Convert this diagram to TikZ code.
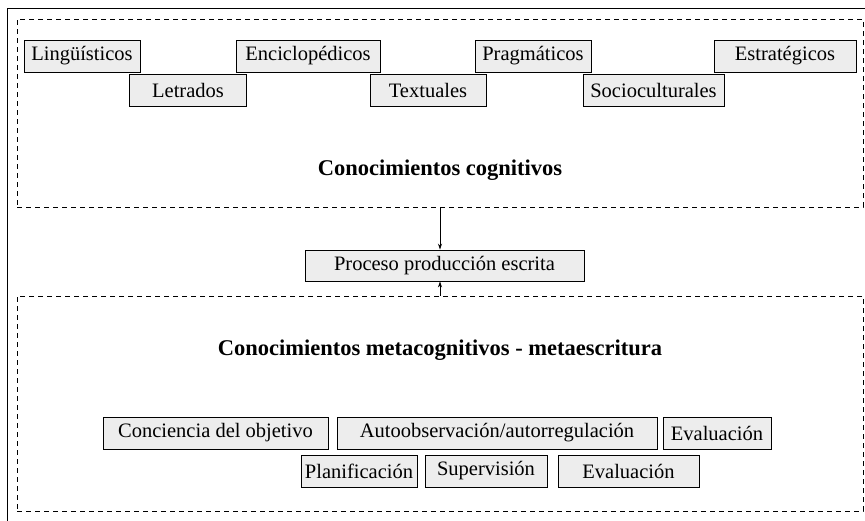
\documentclass[tikz,border=0pt]{standalone}
\usepackage{fontspec}
\setmainfont{Liberation Serif}
\usetikzlibrary{arrows.meta}
\begin{document}
\begin{tikzpicture}[x=1pt,y=-1pt,
  every node/.style={font=\fontsize{20.5}{24}\selectfont},
  kbox/.style={draw=black,line width=0.9pt,fill=black!7,inner sep=0pt,minimum height=32pt},
  dbox/.style={draw=black,line width=0.9pt,dash pattern=on 5pt off 4pt,inner sep=0pt},
  title/.style={font=\fontsize{22.5}{26}\selectfont\bfseries},
  arr/.style={line width=0.8pt,-{Stealth[length=6pt,width=4pt]}}]
\useasboundingbox (0,0) rectangle (865,520);
\begin{scope}
\clip (0,0) rectangle (865,520);
\draw[line width=1.4pt] (7.5,540) -- (7.5,8.5) -- (880,8.5);
\end{scope}
% dashed containers
\node[dbox,minimum width=846pt,minimum height=188pt] (top) at (440,113) {};
\node[dbox,minimum width=846pt,minimum height=215pt] (bot) at (440,403.5) {};
% cognitive boxes
\node[kbox,minimum width=116pt] (ling) at (82,56) {Lingüísticos};
\node[kbox,minimum width=117pt] (letr) at (188,90) {Letrados};
\node[kbox,minimum width=144pt] (enci) at (308,56) {Enciclopédicos};
\node[kbox,minimum width=116pt] (text) at (428,90) {Textuales};
\node[kbox,minimum width=116pt] (prag) at (533,56) {Pragmáticos};
\node[kbox,minimum width=141pt] (soci) at (653.5,90) {Socioculturales};
\node[kbox,minimum width=142pt] (estr) at (785,56) {Estratégicos};
\node[title] (cogt) at (440,170) {Conocimientos cognitivos};
% process
\node[kbox,minimum width=279pt,minimum height=31pt] (proc) at (444.5,265.5) {Proceso producción escrita};
\draw[arr] (top.south) -- (top.south |- proc.north);
\draw[arr] (bot.north) -- (bot.north |- proc.south);
% metacognitive
\node[title] (metat) at (440,350) {Conocimientos metacognitivos - metaescritura};
\node[kbox,minimum width=225pt] (conc) at (215.5,433) {Conciencia del objetivo};
\node[kbox,minimum width=320pt] (auto) at (497,433) {Autoobservación/autorregulación};
\node[kbox,minimum width=108pt] (eva1) at (717,433) {Evaluación};
\node[kbox,minimum width=116pt] (plan) at (359,471) {Planificación};
\node[kbox,minimum width=122pt] (supe) at (486,471) {Supervisión};
\node[kbox,minimum width=141pt] (eva2) at (628.5,471) {Evaluación};
\end{tikzpicture}
\end{document}
